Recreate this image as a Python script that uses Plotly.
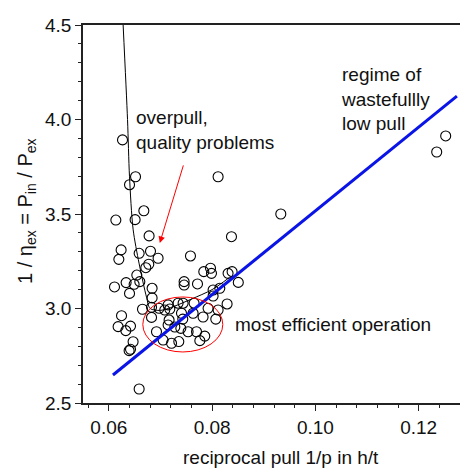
import plotly.graph_objects as go

# Measured operating points: reciprocal pull 1/p (h/t) vs. 1/eta_ex
recip_pull = [
    0.06265, 0.06517, 0.06401, 0.06678, 0.06509, 0.06136, 0.06780, 0.08116,
    0.08375, 0.09330, 0.12349, 0.12523, 0.06238, 0.06194, 0.06587, 0.06807,
    0.06954, 0.06774, 0.06716, 0.06542, 0.06335, 0.06490, 0.06600, 0.06110,
    0.06401, 0.06838, 0.06838, 0.07581, 0.07969, 0.07839, 0.07988, 0.08309,
    0.08387, 0.08507, 0.07458, 0.07458, 0.07717, 0.08149, 0.08019, 0.08019,
    0.08290, 0.06652, 0.06827, 0.06974, 0.07148, 0.07181, 0.07341, 0.07438,
    0.07651, 0.07922, 0.06246, 0.06827, 0.07167, 0.07432, 0.07407, 0.07632,
    0.07825, 0.08071, 0.06180, 0.06329, 0.06420, 0.06470, 0.06420, 0.06393,
    0.06923, 0.07051, 0.07214, 0.07148, 0.07355, 0.07278, 0.07394, 0.07535,
    0.07698, 0.07858, 0.07762, 0.06587, 0.08116, 0.07084,
]
inv_eff = [
    3.892, 3.697, 3.655, 3.517, 3.470, 3.468, 3.384, 3.697,
    3.380, 3.500, 3.828, 3.913, 3.310, 3.260, 3.292, 3.303,
    3.266, 3.234, 3.216, 3.177, 3.137, 3.128, 3.142, 3.114,
    3.080, 3.107, 3.056, 3.278, 3.213, 3.195, 3.186, 3.186,
    3.195, 3.138, 3.142, 3.124, 3.130, 3.107, 3.098, 3.066,
    3.024, 2.996, 3.006, 3.001, 3.019, 2.997, 3.028, 3.028,
    3.028, 3.001, 2.962, 2.953, 2.939, 2.944, 2.975, 2.975,
    2.955, 2.944, 2.904, 2.883, 2.907, 2.824, 2.784, 2.777,
    2.877, 2.833, 2.816, 2.913, 2.825, 2.902, 2.895, 2.877,
    2.877, 2.854, 2.830, 2.574, 2.992, 2.992,
]

# Model curve (overpull branch) and linear low-pull trend
curve_x = [0.06277, 0.06362, 0.06400, 0.06470, 0.06585, 0.06730,
           0.06800, 0.07000, 0.07250, 0.07600, 0.08000, 0.08340]
curve_y = [4.50, 4.00, 3.70, 3.42, 3.24, 3.06,
           3.00, 2.99, 3.01, 3.05, 3.10, 3.165]
trend_x = [0.0608, 0.1274]
trend_y = [2.648, 4.124]

x_ticks = [0.06, 0.08, 0.10, 0.12]
y_ticks = [2.5, 3.0, 3.5, 4.0, 4.5]

FONT = "Liberation Sans, Arial, sans-serif"
INK = "#111111"

fig = go.Figure()
fig.add_trace(go.Scatter(
    x=recip_pull, y=inv_eff, mode="markers",
    marker=dict(symbol="circle-open", size=10, color="black",
                line=dict(width=1.1, color="black")),
    showlegend=False, hoverinfo="skip",
))
fig.add_trace(go.Scatter(
    x=curve_x, y=curve_y, mode="lines",
    line=dict(color="black", width=1, shape="spline", smoothing=0.8),
    showlegend=False, hoverinfo="skip",
))
fig.add_trace(go.Scatter(
    x=trend_x, y=trend_y, mode="lines",
    line=dict(color="#0a14e6", width=3),
    showlegend=False, hoverinfo="skip",
))

# Region of most efficient operation
fig.add_shape(type="circle", xref="x", yref="y",
              x0=0.06658, x1=0.08207, y0=2.770, y1=3.061,
              line=dict(color="red", width=1))

annotations = [
    dict(x=0.06987, y=3.347, ax=0.07452, ay=3.765, axref="x", ayref="y",
         xref="x", yref="y", text="", showarrow=True, arrowhead=2,
         arrowsize=1.3, arrowwidth=1, arrowcolor="red"),
    dict(x=0.06484, y=3.944, xref="x", yref="y", xanchor="left",
         yanchor="middle", align="left", showarrow=False,
         text="overpull,<br>quality problems"),
    dict(x=0.10452, y=4.108, xref="x", yref="y", xanchor="left",
         yanchor="middle", align="left", showarrow=False,
         text="regime of<br>wastefullly<br>low pull"),
    dict(x=0.0840, y=2.913, xref="x", yref="y", xanchor="left",
         yanchor="middle", align="left", showarrow=False,
         text="most efficient operation"),
    dict(x=0.525, y=-0.143, xref="paper", yref="paper", xanchor="center",
         yanchor="middle", showarrow=False,
         text="reciprocal pull 1/p in h/t"),
    dict(x=-0.1485, y=0.508, xref="paper", yref="paper", xanchor="center",
         yanchor="middle", showarrow=False, textangle=-90,
         text="1 / η<sub>ex</sub> = P<sub>in</sub> / P<sub>ex</sub>",
         font=dict(size=20, family=FONT, color=INK)),
]
for a in annotations:
    a.setdefault("font", dict(size=19, family=FONT, color=INK))
    fig.add_annotation(**a)

fig.update_layout(
    width=460, height=473,
    margin=dict(l=83, r=0, t=25, b=70),
    paper_bgcolor="white", plot_bgcolor="white",
    showlegend=False,
    font=dict(family=FONT, color=INK, size=19),
)
fig.update_xaxes(
    range=[0.055, 0.128], tickvals=x_ticks, tickformat=".2f",
    showline=True, linecolor="#222222", linewidth=1.5, mirror=True,
    ticks="outside", ticklen=6, tickwidth=1, tickcolor="#222222",
    minor=dict(dtick=0.004, tick0=0, ticks="outside", ticklen=3,
               tickwidth=1, tickcolor="#222222"),
    showgrid=False, zeroline=False,
    tickfont=dict(size=19, family=FONT, color=INK),
)
fig.update_yaxes(
    range=[2.5, 4.5], tickvals=y_ticks, tickformat=".1f",
    showline=True, linecolor="#222222", linewidth=1.5,
    ticks="outside", ticklen=6, tickwidth=1, tickcolor="#222222",
    minor=dict(dtick=0.1, tick0=0, ticks="outside", ticklen=3,
               tickwidth=1, tickcolor="#222222"),
    showgrid=False, zeroline=False,
    tickfont=dict(size=19, family=FONT, color=INK),
)

fig.write_html("out.html")
